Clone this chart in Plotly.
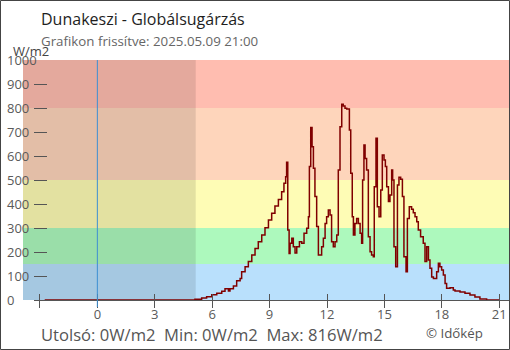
import plotly.graph_objects as go

# Global radiation, W/m2, by hour of day (step series)
hours = [-2.75, 4.84, 5.10, 5.45, 5.71, 5.98, 6.24, 6.50, 6.67, 6.85, 6.93, 7.11, 7.28,
         7.46, 7.54, 7.72, 7.89, 8.07, 8.24, 8.41, 8.59, 8.76, 8.94, 9.11, 9.28,
         9.46, 9.63, 9.75, 9.84, 9.89, 9.95, 10.02, 10.07, 10.16, 10.24, 10.33,
         10.42, 10.56, 10.68, 10.80, 10.94, 11.03, 11.08, 11.15, 11.22, 11.29,
         11.37, 11.46, 11.55, 11.72, 11.81, 11.90, 11.98, 12.07, 12.16, 12.24,
         12.33, 12.42, 12.51, 12.59, 12.68, 12.77, 12.85, 12.94, 13.03, 13.17,
         13.24, 13.32, 13.38, 13.46, 13.55, 13.64, 13.73, 13.81, 13.86, 13.93,
         13.99, 14.07, 14.16, 14.25, 14.33, 14.42, 14.47, 14.56, 14.63, 14.72,
         14.81, 14.89, 14.98, 15.05, 15.12, 15.21, 15.29, 15.38, 15.43, 15.50,
         15.59, 15.68, 15.76, 15.85, 15.94, 16.02, 16.13, 16.20, 16.30, 16.42,
         16.51, 16.60, 16.69, 16.77, 16.89, 17.03, 17.12, 17.21, 17.30, 17.38,
         17.47, 17.56, 17.73, 17.82, 17.90, 17.99, 18.08, 18.17, 18.25, 18.43,
         18.60, 18.69, 18.95, 19.21, 19.47, 19.73, 19.99, 20.34, 21.00]
radiation = [0, 0, 3, 8, 14, 22, 28, 36, 47, 38, 47, 58, 80,
             90, 118, 139, 160, 187, 215, 243, 271, 301, 333, 361, 392,
             419, 451, 486, 514, 574, 292, 194, 236, 257, 222, 196,
             222, 243, 236, 278, 299, 347, 556, 719, 639, 549,
             431, 306, 187, 222, 257, 319, 347, 375, 354, 243,
             222, 243, 271, 542, 722, 816, 808, 799, 796, 708,
             528, 347, 271, 319, 340, 319, 278, 236, 500, 646,
             590, 542, 264, 201, 187, 180, 472, 674, 389, 347,
             458, 604, 583, 556, 472, 410, 437, 542, 500, 222,
             139, 479, 511, 503, 431, 180, 118, 340, 389, 378,
             364, 347, 326, 292, 264, 236, 160, 222, 167, 132,
             96, 90, 118, 153, 139, 125, 104, 69, 49, 51,
             42, 38, 33, 28, 21, 12, 4, 0, 0]

# Radiation classes: (lower, upper, colour)
band_edges = [0, 150, 300, 500, 800, 1000]
band_colors = ["#b9e0fc", "#adf9bd", "#fefcb5", "#fed5bb", "#ffbdb0"]

x_ticks = [-3, 0, 3, 6, 9, 12, 15, 18, 21]
x_tick_text = ["", "0", "3", "6", "9", "12", "15", "18", "21"]
y_ticks = [0, 100, 200, 300, 400, 500, 600, 700, 800, 900, 1000]

sunrise = 5.14
x_min, x_max = -3.31, 21.51

# figure geometry (px)
W, H = 510, 350
L, R, T, B = 34, 1, 60, 50
PW, PH = W - L - R, H - T - B


def xp(px):
    return (px - L) / PW


def yp(py):
    return (H - B - py) / PH


def xh(h):
    return (h - x_min) / (x_max - x_min)


fig = go.Figure()
fig.add_trace(go.Scatter(
    x=hours, y=radiation, mode="lines", line_shape="hv",
    line=dict(color="#800000", width=1.5), hoverinfo="skip", showlegend=False,
))
# second x axis carries the lower half of the crossing ticks
fig.add_trace(go.Scatter(x=[x_min], y=[0], xaxis="x2", mode="markers",
                         marker=dict(opacity=0), hoverinfo="skip", showlegend=False))

shapes = []
for lo, hi, col in zip(band_edges[:-1], band_edges[1:], band_colors):
    shapes.append(dict(type="rect", xref="paper", yref="y", x0=xp(23), x1=1,
                       y0=lo, y1=hi, fillcolor=col, line_width=0, layer="below"))
# night shading before sunrise
shapes.append(dict(type="rect", xref="paper", yref="y", x0=xp(23), x1=xh(sunrise),
                   y0=0, y1=1000, fillcolor="rgba(0,0,0,0.105)", line_width=0,
                   layer="below"))
# midnight marker
shapes.append(dict(type="line", xref="x", yref="paper", x0=0, x1=0, y0=yp(307), y1=1,
                   line=dict(color="#3d8ed2", width=1)))
# outer frame
shapes.append(dict(type="rect", xref="paper", yref="paper", x0=xp(0.5), x1=xp(W - 0.5),
                   y0=yp(H - 0.5), y1=yp(0.5), line=dict(color="#444444", width=1),
                   fillcolor="rgba(0,0,0,0)"))

annotations = []
for v in y_ticks:
    annotations.append(dict(xref="paper", yref="y", x=xp(5), y=v, text=str(v),
                            xanchor="left", yanchor="middle", showarrow=False,
                            font=dict(family="Open Sans", size=13, color="#5a5a5a")))
annotations += [
    dict(xref="paper", yref="paper", x=xp(11), y=yp(51), text="W/m2", xanchor="left",
         yanchor="middle", showarrow=False,
         font=dict(family="Open Sans", size=13, color="#444444")),
    dict(xref="paper", yref="paper", x=xp(39), y=yp(19), text="Dunakeszi - Globálsugárzás",
         xanchor="left", yanchor="middle", showarrow=False,
         font=dict(family="Open Sans", size=16, color="#1e1e1e")),
    dict(xref="paper", yref="paper", x=xp(39), y=yp(41),
         text="Grafikon frissítve: 2025.05.09 21:00", xanchor="left", yanchor="middle",
         showarrow=False, font=dict(family="Open Sans", size=13.3, color="#666666")),
    dict(xref="paper", yref="paper", x=xp(39), y=yp(334),
         text="\u00a0\u00a0".join([f"Utolsó: {radiation[-1]}W/m2",
                                   f"Min: {min(radiation)}W/m2",
                                   f"Max: {max(radiation)}W/m2"]),
         xanchor="left", yanchor="middle", showarrow=False,
         font=dict(family="Open Sans", size=16.6, color="#555555")),
    dict(xref="paper", yref="paper", x=xp(424), y=yp(333), text="© Időkép",
         xanchor="left", yanchor="middle", showarrow=False,
         font=dict(family="Open Sans", size=13.3, color="#555555")),
]

axis_common = dict(range=[x_min, x_max], tickvals=x_ticks, showgrid=False, zeroline=False)
fig.update_layout(
    width=W, height=H, margin=dict(l=L, r=R, t=T, b=B),
    paper_bgcolor="white", plot_bgcolor="rgba(0,0,0,0)",
    xaxis=dict(**axis_common, ticktext=x_tick_text, ticks="inside", ticklen=6,
               tickcolor="#555555", tickwidth=1, showline=True, linecolor="#555555",
               linewidth=1, ticklabelstandoff=2,
               tickfont=dict(family="Open Sans", size=13, color="#5a5a5a")),
    xaxis2=dict(**axis_common, overlaying="x", matches="x", side="bottom",
                ticks="outside", ticklen=7, tickcolor="#555555", tickwidth=1,
                showticklabels=False, showline=False),
    yaxis=dict(range=[0, 1000], tickvals=y_ticks, ticks="inside", ticklen=13,
               tickcolor="#555555", tickwidth=1, showticklabels=False, showgrid=False,
               zeroline=False, showline=False),
    shapes=shapes, annotations=annotations,
)

fig.write_html("out.html")
